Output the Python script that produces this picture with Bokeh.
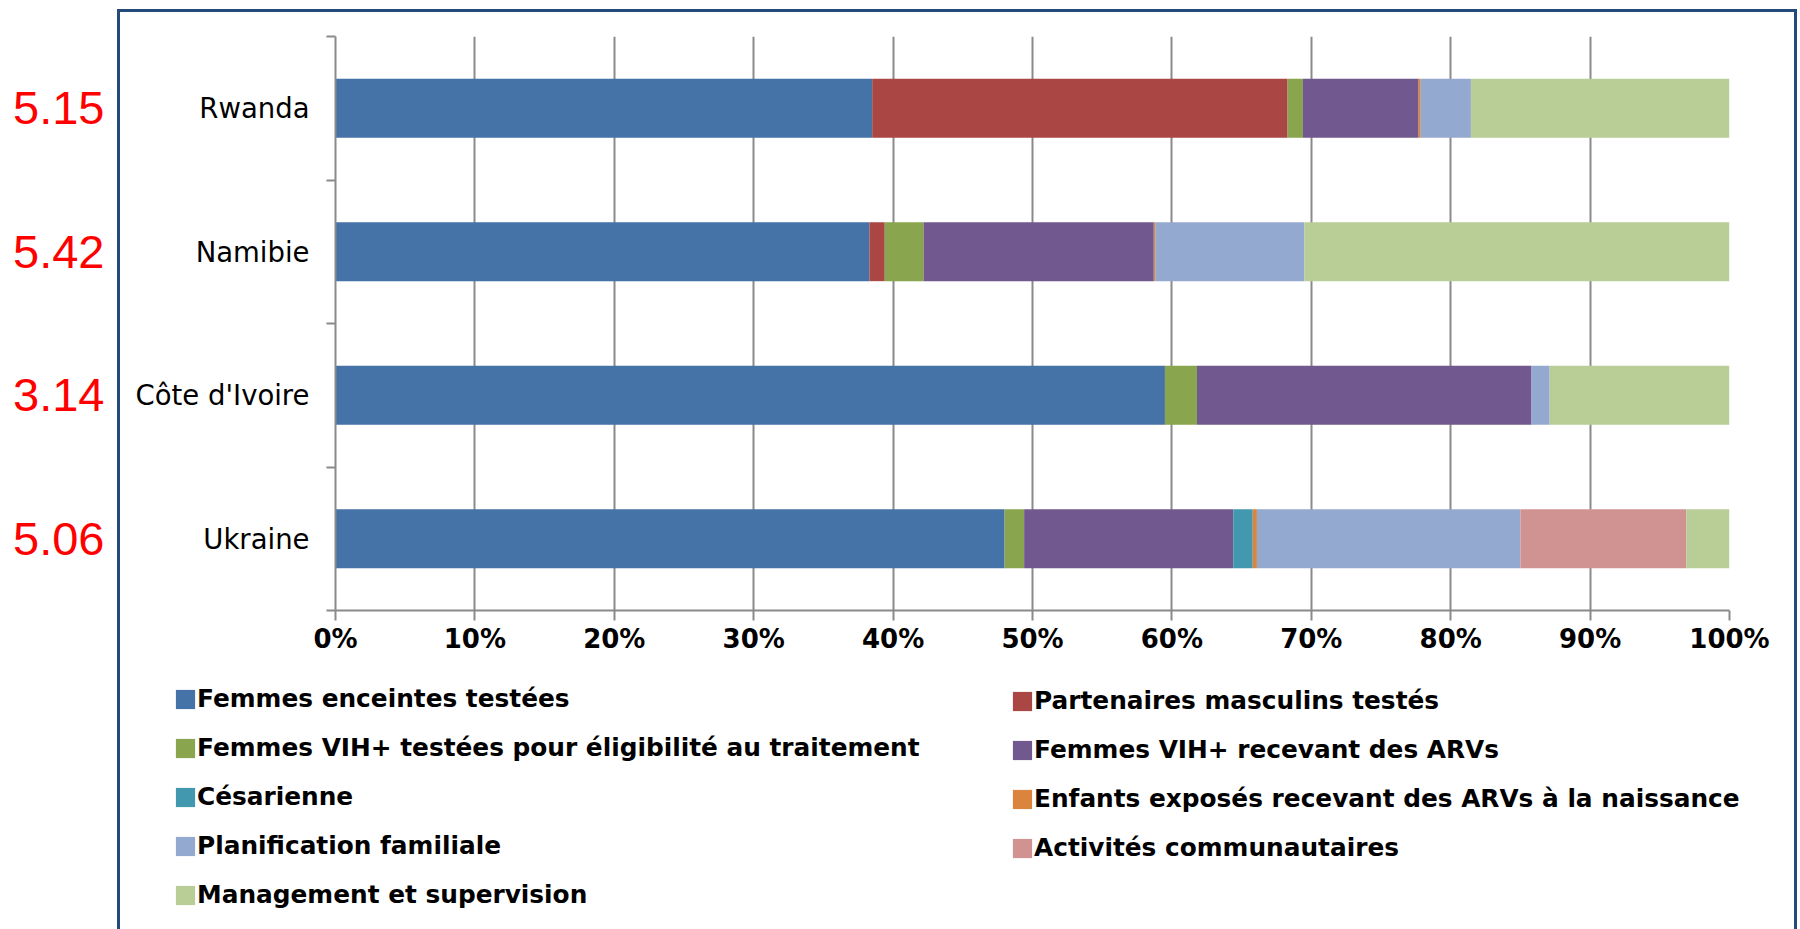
from bokeh.plotting import figure
from bokeh.models import (Range1d, FixedTicker, ColumnDataSource, Legend, LegendItem,
                          LinearAxis, InlineStyleSheet)
from bokeh.layouts import column
from bokeh.embed import file_html
from bokeh.resources import INLINE

# ---------------- data ----------------
countries = ["Rwanda", "Namibie", "Côte d'Ivoire", "Ukraine"]
totals = ["5.15", "5.42", "3.14", "5.06"]

series_names = [
    "Femmes enceintes testées",
    "Partenaires masculins testés",
    "Femmes VIH+ testées pour éligibilité au traitement",
    "Femmes VIH+ recevant des ARVs",
    "Césarienne",
    "Enfants exposés recevant des ARVs à la naissance",
    "Planification familiale",
    "Activités communautaires",
    "Management et supervision",
]
femmes_enceintes = [38.5, 38.3, 59.5, 48.0]
partenaires = [29.8, 1.1, 0.0, 0.0]
eligibilite = [1.1, 2.8, 2.3, 1.4]
arv_femmes = [8.3, 16.5, 24.0, 15.0]
cesarienne = [0.0, 0.0, 0.0, 1.4]
arv_enfants = [0.15, 0.1, 0.0, 0.3]
planification = [3.6, 10.7, 1.3, 18.9]
communautaires = [0.0, 0.0, 0.0, 11.9]
management = [18.55, 30.5, 12.9, 3.1]

x_ticks = [0, 10, 20, 30, 40, 50, 60, 70, 80, 90, 100]
x_tick_labels = ["0%", "10%", "20%", "30%", "40%", "50%", "60%", "70%", "80%", "90%", "100%"]

colors = ["#4572A7", "#AA4643", "#89A54E", "#71588F", "#4198AF",
          "#DB843D", "#93A9CF", "#D19392", "#B9CD96"]

# ---------------- build ----------------
n = len(countries)
y_pos = [n - 0.5 - i for i in range(n)]
keys = ["s%d" % i for i in range(len(series_names))]
values = [femmes_enceintes, partenaires, eligibilite, arv_femmes, cesarienne,
          arv_enfants, planification, communautaires, management]
data = {"y": y_pos, "country": countries, "total": totals}
for k, v in zip(keys, values):
    data[k] = v
src = ColumnDataSource(data)

GRID = "#8A8A8A"

p = figure(width=1800, height=680, x_range=Range1d(0, 100), y_range=Range1d(0, n),
           output_backend="svg", toolbar_location=None,
           min_border_left=335, min_border_right=71, min_border_top=36, min_border_bottom=70)
p.frame_align = False
p.outline_line_color = None
p.background_fill_color = "white"
p.border_fill_color = None

p.hbar_stack(keys, y="y", height=0.41, color=colors, line_color=None, source=src)

# x axis
xa = p.xaxis[0]
xa.ticker = FixedTicker(ticks=x_ticks)
xa.major_label_overrides = {t: l for t, l in zip(x_ticks, x_tick_labels)}
xa.axis_line_color = GRID
xa.axis_line_width = 2
xa.major_tick_line_color = GRID
xa.major_tick_line_width = 2
xa.major_tick_out = 10
xa.major_tick_in = 0
xa.minor_tick_line_color = None
xa.major_label_text_font = "DejaVu Sans"
xa.major_label_text_font_style = "bold"
xa.major_label_text_font_size = "26px"
xa.major_label_text_color = "black"
xa.major_label_standoff = 3

# y axis: labels at category centres, ticks at category boundaries
ya = p.yaxis[0]
ya.ticker = FixedTicker(ticks=y_pos, minor_ticks=list(range(n + 1)))
ya.major_label_overrides = {y: c for y, c in zip(y_pos, countries)}
ya.axis_line_color = GRID
ya.axis_line_width = 2
ya.major_tick_line_color = None
ya.major_tick_out = 0
ya.major_tick_in = 0
ya.minor_tick_line_color = GRID
ya.minor_tick_line_width = 2
ya.minor_tick_out = 9
ya.minor_tick_in = 0
ya.major_label_text_font = "DejaVu Sans"
ya.major_label_text_font_size = "27.5px"
ya.major_label_text_color = "black"
ya.major_label_standoff = 17

# red totals: an outer left axis
ra = LinearAxis(ticker=FixedTicker(ticks=y_pos),
                major_label_overrides={y: t for y, t in zip(y_pos, totals)},
                axis_line_color=None, major_tick_line_color=None, minor_tick_line_color=None,
                major_tick_out=0, major_tick_in=0, minor_tick_out=0, minor_tick_in=0,
                major_label_standoff=28,
                major_label_text_font="Liberation Sans", major_label_text_font_size="47px",
                major_label_text_color="#FF0000")
p.add_layout(ra, "left")

p.xgrid.ticker = FixedTicker(ticks=x_ticks)
p.xgrid.grid_line_color = GRID
p.xgrid.grid_line_width = 2
p.ygrid.grid_line_color = None

# ---------------- legend figure ----------------
q = figure(width=1800, height=249, x_range=Range1d(0, 100), y_range=Range1d(0, n),
           output_backend="svg", toolbar_location=None,
           x_axis_type=None, y_axis_type=None,
           min_border_left=0, min_border_right=0, min_border_top=0, min_border_bottom=0)
q.frame_align = False
q.outline_line_color = None
q.xgrid.visible = False
q.ygrid.visible = False
q.background_fill_color = None
q.border_fill_color = None

# legend-only renderers (zero height, so nothing is drawn in this panel)
leg_renderers = q.hbar_stack(keys, y="y", height=0, color=colors, line_color=None, source=src)
items = [LegendItem(label=name, renderers=[r]) for name, r in zip(series_names, leg_renderers)]

def make_legend(its, loc, standoff):
    lg = Legend(items=its, location=loc, orientation="vertical")
    lg.background_fill_alpha = 0
    lg.border_line_color = None
    lg.padding = 0
    lg.margin = 0
    lg.spacing = 20
    lg.glyph_width = 24
    lg.glyph_height = 24
    lg.label_standoff = standoff
    lg.label_height = 24
    lg.label_text_font = "DejaVu Sans"
    lg.label_text_font_style = "bold"
    lg.label_text_font_size = "24.8px"
    lg.label_text_color = "black"
    return lg

q.add_layout(make_legend(items[0::2], (173, 20), 0))
q.add_layout(make_legend(items[1::2], (1010, 67), 0))

frame_css = InlineStyleSheet(css="""
:host { position: relative; }
:host::after {
  content: ''; position: absolute; left: 117px; top: 9px;
  width: 1674px; height: 917px;
  border: 3px solid #24497B; border-bottom: none;
  pointer-events: none; box-sizing: content-box;
}
""")
layout = column(p, q, spacing=0, stylesheets=[frame_css])

open("out.html", "w").write(file_html(layout, INLINE))
